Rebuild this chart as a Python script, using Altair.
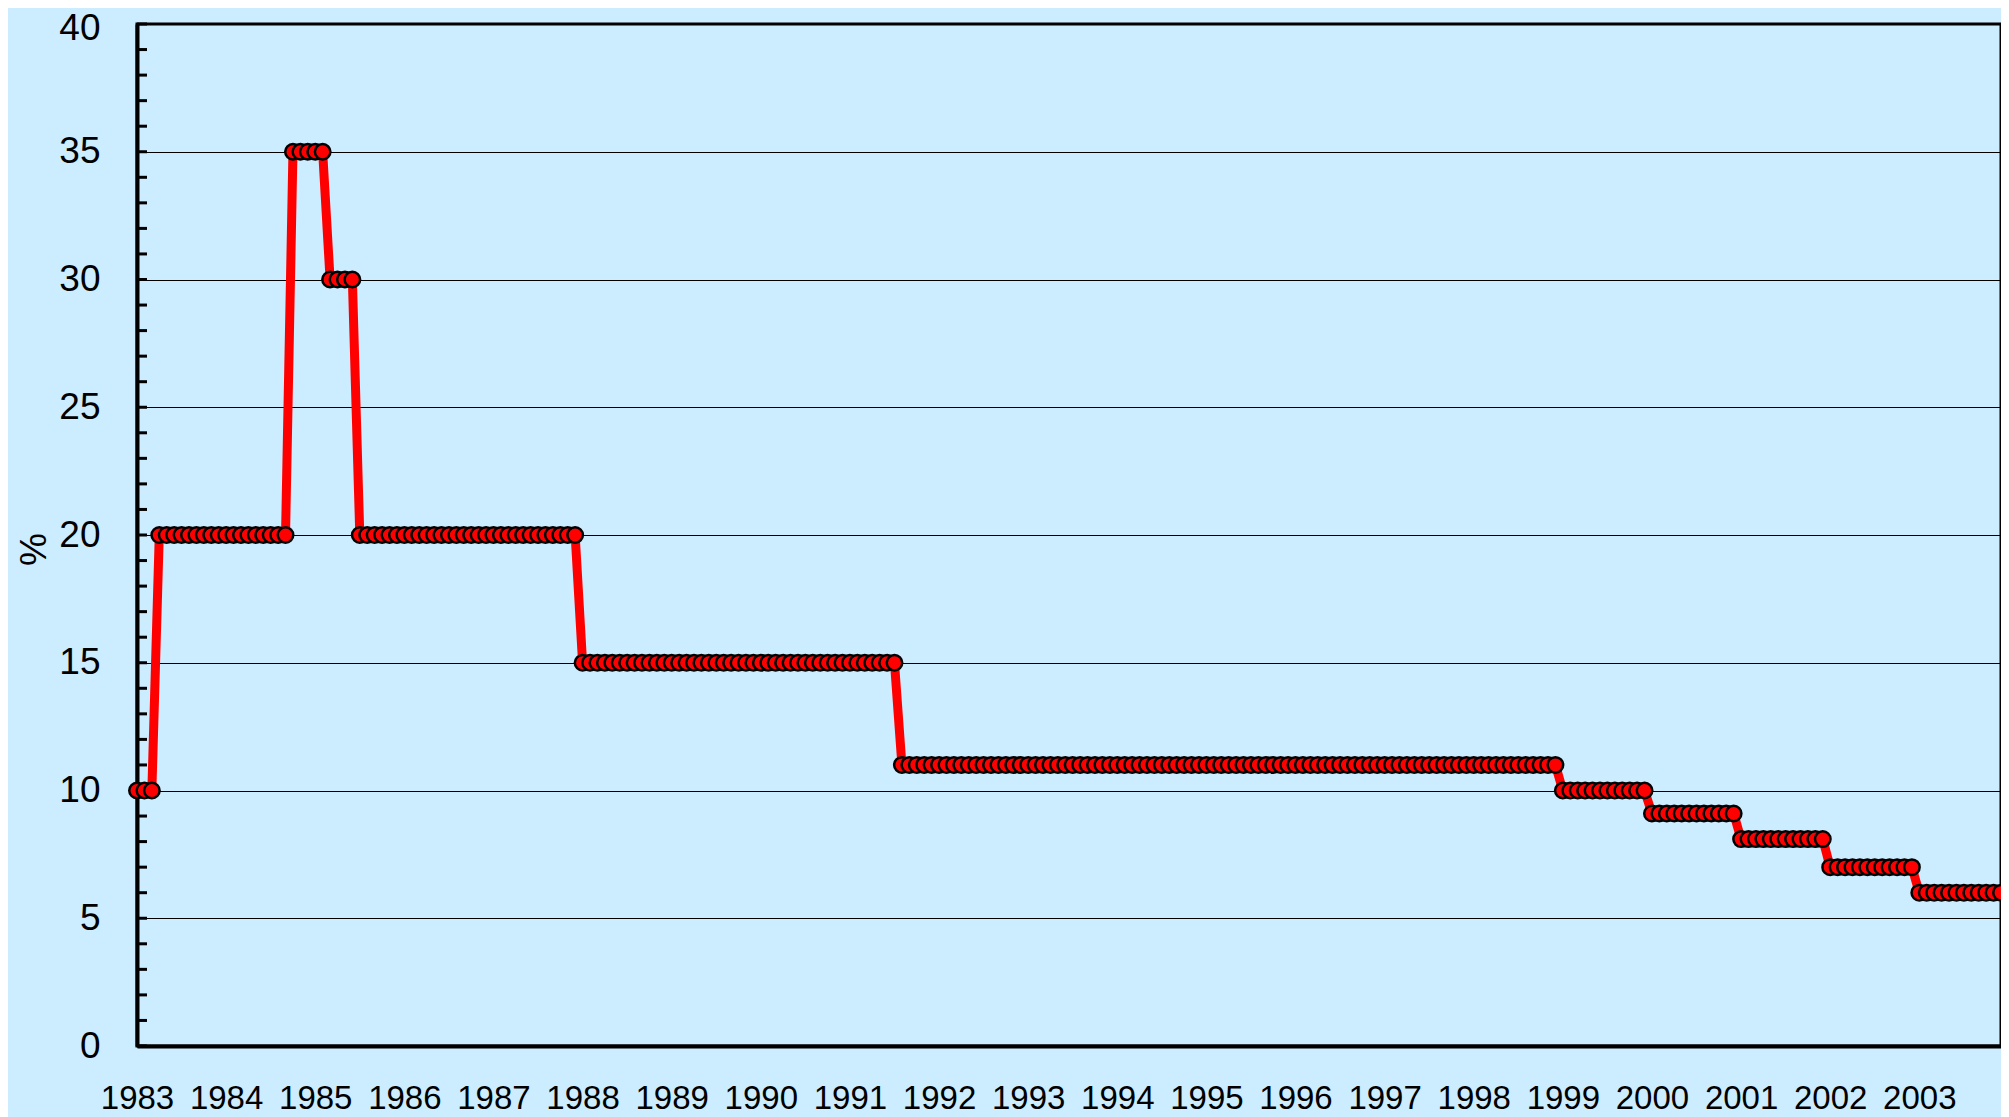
import altair as alt
import pandas as pd

# ---- data ----
years = list(range(1983, 2004))            # axis labels, one per January
level_values = [10, 20, 35, 30, 20, 15, 11, 10, 9.1, 8.1, 7, 6]   # %
level_months = [3, 18, 5, 4, 30, 43, 89, 12, 12, 12, 12, 12]       # months each level held
minor_ticks = list(range(0, 41))
major_ticks = list(range(0, 41, 5))

months = [f"{y}-{m:02d}" for y in years for m in range(1, 13)]
values = []
for v, n in zip(level_values, level_months):
    values += [v] * n
df = pd.DataFrame({"month": months[:len(values)], "rate": values})
ticks_df = pd.DataFrame({"rate": minor_ticks})

FONT = "Liberation Sans"
BG = "#CCECFF"

x_enc = alt.X(
    "month:O",
    scale=alt.Scale(type="point", padding=0),
    axis=alt.Axis(
        values=[f"{y}-01" for y in years],
        labelExpr="substring(datum.value, 0, 4)",
        labelAngle=0,
        labelFont=FONT,
        labelFontSize=33,
        labelColor="black",
        labelPadding=36,
        labelOverlap=False,
        labelBound=False,
        labelFlush=False,
        ticks=False,
        domainColor="black",
        domainWidth=4,
        grid=False,
        title=None,
    ),
)

y_scale = alt.Scale(domain=[0, 40], nice=False, zero=True)
y_axis = alt.Axis(
    values=major_ticks,
    labelFont=FONT,
    labelFontSize=37,
    labelColor="black",
    labelPadding=37,
    labelOffset={"condition": {"test": "datum.value == 40", "value": 4}, "value": 0},
    ticks=False,
    domainColor="black",
    domainWidth=4,
    grid=True,
    gridColor="black",
    gridWidth=1,
    title="%",
    titleFont=FONT,
    titleFontSize=37,
    titleFontWeight="normal",
    titleColor="black",
    titleAngle=270,
    titleBaseline="alphabetic",
    titleAlign="center",
    titleX=-92,
    titleY=525,
)
y_enc = alt.Y("rate:Q", scale=y_scale, axis=y_axis)

tick_layer = alt.Chart(ticks_df).mark_rule(color="black", strokeWidth=3).encode(
    x=alt.value(0),
    x2=alt.value(10),
    y=y_enc,
)

line = alt.Chart(df).mark_line(color="#FF0000", strokeWidth=9).encode(x=x_enc, y=y_enc)
points = alt.Chart(df).mark_point(
    shape="circle", filled=True, fill="#FF0000", stroke="black",
    strokeWidth=2.5, size=240, opacity=1
).encode(x=x_enc, y=y_enc)

chart = alt.layer(tick_layer, line, points).properties(
    width=1864,
    height=1022,
    autosize=alt.AutoSizeParams(type="none"),
    padding={"left": 129, "top": 16, "right": 0, "bottom": 90},
    background=BG,
).configure_view(
    fill=BG, stroke="black", strokeWidth=3
)

chart.save("out.html", embed_options={"renderer": "svg", "actions": False})
